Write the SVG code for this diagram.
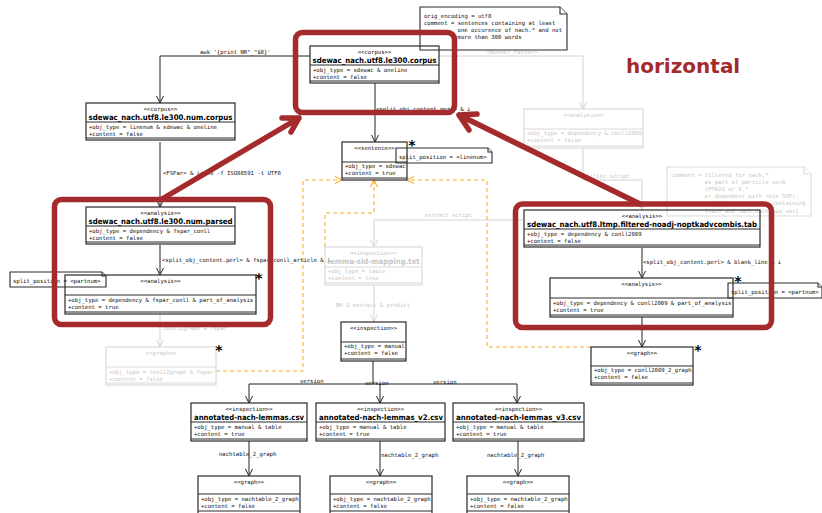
<svg xmlns="http://www.w3.org/2000/svg" width="822" height="513" viewBox="0 0 822 513">
<style>
.bx{fill:none;stroke:#2a2a2a;stroke-width:1.2}
.fb{fill:none;stroke:#dadada;stroke-width:1.2}
.nt{fill:#fff;stroke:#2a2a2a;stroke-width:1.1}
.fn{fill:#fff;stroke:#dcdcdc;stroke-width:1.1}
.m{font-family:"DejaVu Sans Mono","Liberation Mono",monospace;font-size:5.6px;fill:#111}
.f{fill:#c6c6c6}
.c{text-anchor:middle}
.nm{font-family:"DejaVu Sans","Liberation Sans",sans-serif;font-weight:bold;font-size:7.6px;text-anchor:middle;fill:#000}
.e{fill:none;stroke:#222;stroke-width:1}
.fe{fill:none;stroke:#d4d4d4;stroke-width:1}
.o{fill:none;stroke:#f9ae2e;stroke-width:1.1;stroke-dasharray:4 3}
.red{fill:none;stroke:#a52a2b;stroke-width:5.5;stroke-linejoin:round;stroke-linecap:round}
.st{font-family:"DejaVu Sans",sans-serif;font-weight:bold;font-size:14px;text-anchor:middle;fill:#000}
</style>
<defs>
<marker id="a" viewBox="-9 -5 10 10" refX="0" refY="0" markerWidth="10" markerHeight="10" markerUnits="userSpaceOnUse" orient="auto"><path d="M-7,-3.5 L0,0 L-7,3.5" fill="none" stroke="#222" stroke-width="1"/></marker>
<marker id="af" viewBox="-9 -5 10 10" refX="0" refY="0" markerWidth="10" markerHeight="10" markerUnits="userSpaceOnUse" orient="auto"><path d="M-7,-3.5 L0,0 L-7,3.5" fill="none" stroke="#d4d4d4" stroke-width="1"/></marker>
<marker id="ao" viewBox="-9 -5 10 10" refX="0" refY="0" markerWidth="10" markerHeight="10" markerUnits="userSpaceOnUse" orient="auto"><path d="M-7,-3.5 L0,0 L-7,3.5" fill="none" stroke="#f9ae2e" stroke-width="1.1"/></marker>
</defs>
<rect width="822" height="513" fill="#fff"/>

<g id="connectors">
<path class="e" d="M310,56 H160 V103" marker-end="url(#a)"/>
<path class="e" d="M160,142 V207" marker-end="url(#a)"/>
<path class="e" d="M160,245 V275" marker-end="url(#a)"/>
<path class="fe" d="M160,314 V347" marker-end="url(#af)"/>
<path class="e" d="M375,83 V142" marker-end="url(#a)"/>
<path class="fe" d="M439,56 H583 V109" marker-end="url(#af)"/>
<path class="fe" d="M583,148 V180 H642 V210" marker-end="url(#af)"/>
<path class="e" d="M642,248 V278" marker-end="url(#a)"/>
<path class="e" d="M642,317 V347" marker-end="url(#a)"/>
<path class="fe" d="M524,220 H374 V247" marker-end="url(#af)"/>
<path class="fe" d="M374,285 V322" marker-end="url(#af)"/>
<path class="e" d="M373,361 V384"/>
<path class="e" d="M373,384 H249 V403" marker-end="url(#a)"/>
<path class="e" d="M373,384 H380 V403" marker-end="url(#a)"/>
<path class="e" d="M380,384 H517 V403" marker-end="url(#a)"/>
<path class="e" d="M249,441 V476" marker-end="url(#a)"/>
<path class="e" d="M380,441 V476" marker-end="url(#a)"/>
<path class="e" d="M518,441 V476" marker-end="url(#a)"/>
<path class="o" d="M216,371 H303 V180 H342" marker-end="url(#ao)"/>
<path class="o" d="M325,247 V213 H374 V180" marker-end="url(#ao)"/>
<path class="o" d="M591,347 H487 V180 H407" marker-end="url(#ao)"/>
<text class="m" x="200" y="54">awk '{print NR"_"$0}'</text>
<text class="m" x="163" y="175">&lt;FSPar&gt; &amp; iconv -f ISO88591 -t UTF8</text>
<text class="m" x="162" y="262">&lt;split_obj_content.perl&gt; &amp; fspar_conll_article &amp; i</text>
<text class="m f" x="163" y="330">conll2graph &amp; fspar</text>
<text class="m" x="376" y="111">&lt;split_obj_content.perl&gt; &amp; i</text>
<text class="m f" x="487" y="54">&lt;Bohnet_Parser&gt;</text>
<text class="m f" x="586" y="178">filter script</text>
<text class="m" x="643" y="264">&lt;split_obj_content.perl&gt; &amp; blank_line &amp; i</text>
<text class="m" x="623" y="329">conll2graph</text>
<text class="m f" x="425" y="217">extract script</text>
<text class="m f" x="336" y="307">BH &amp; extract &amp; predict</text>
<text class="m" x="300" y="383">version</text>
<text class="m" x="365" y="385">version</text>
<text class="m" x="433" y="384">version</text>
<text class="m" x="219" y="456">nachtable_2_graph</text>
<text class="m" x="381" y="457">nachtable_2_graph</text>
<text class="m" x="487" y="457">nachtable_2_graph</text>
</g>

<g id="note-top">
<path class="nt" d="M420,7 H560 L567,14 V50 H420 Z"/>
<path class="nt" fill="none" d="M560,7 V14 H567"/>
<text class="m" x="424" y="18">orig_encoding = utf8</text>
<text class="m" x="424" y="25">comment = sentences containing at least</text>
<text class="m" x="457.6" y="32">one occurence of nach.* and not</text>
<text class="m" x="457.6" y="39">more than 300 words</text>
</g>

<g id="note-right">
<path class="fn" d="M667,167 H804 L811,174 V216 H667 Z"/>
<path class="fn" fill="none" d="M804,167 V174 H811"/>
<text class="m f" x="671" y="177">comment = filtered for nach.*</text>
<text class="m f" x="704.6" y="184">as part of particle verb</text>
<text class="m f" x="704.6" y="191">(PTKVZ or V.*</text>
<text class="m f" x="704.6" y="198">or dependent with role SVP),</text>
<text class="m f" x="704.6" y="205">excluding sentences containing</text>
<text class="m f" x="704.6" y="213">{nach_and_nach,nach_wie_vor}</text>
</g>

<g id="note-sentence">
<path class="nt" d="M396,148 H488 L492,152 V163 H396 Z"/>
<path class="nt" fill="none" d="M488,148 V152 H492"/>
<text class="m" x="399" y="159">split_position = &lt;linenum&gt;</text>
</g>
<g id="note-left">
<path class="nt" d="M10,272 H102 L106,276 V287 H10 Z"/>
<path class="nt" fill="none" d="M102,272 V276 H106"/>
<text class="m" x="13" y="283">split_position = &lt;partnum&gt;</text>
</g>
<g id="note-rightsplit">
<path class="nt" d="M728,283 H818 L822,287 V298 H728 Z"/>
<path class="nt" fill="none" d="M818,283 V287 H822"/>
<text class="m" x="731" y="294">split_position = &lt;partnum&gt;</text>
</g>

<g id="corpus-top">
<rect class="bx" x="310" y="46" width="129" height="37"/>
<path class="bx" d="M310,65 H439 M310,81 H439"/>
<text class="m c" x="374.5" y="53.5">&lt;&lt;corpus&gt;&gt;</text>
<text class="nm" x="374.5" y="62.5" textLength="124" lengthAdjust="spacingAndGlyphs">sdewac_nach.utf8.le300.corpus</text>
<text class="m" x="313" y="72">+obj_type = sdewac &amp; oneline</text>
<text class="m" x="313" y="79">+content = false</text>
</g>

<g id="corpus-num">
<rect class="bx" x="86" y="103" width="149" height="37"/>
<path class="bx" d="M86,122 H235 M86,138 H235"/>
<text class="m c" x="160.5" y="110.5">&lt;&lt;corpus&gt;&gt;</text>
<text class="nm" x="160.5" y="119.5" textLength="144" lengthAdjust="spacingAndGlyphs">sdewac_nach.utf8.le300.num.corpus</text>
<text class="m" x="89" y="129">+obj_type = linenum &amp; sdewac &amp; oneline</text>
<text class="m" x="89" y="136">+content = false</text>
</g>

<g id="parsed">
<rect class="bx" x="86" y="207" width="149" height="37"/>
<path class="bx" d="M86,226 H235 M86,242 H235"/>
<text class="m c" x="160.5" y="214.5">&lt;&lt;analysis&gt;&gt;</text>
<text class="nm" x="160.5" y="223.5" textLength="144" lengthAdjust="spacingAndGlyphs">sdewac_nach.utf8.le300.num.parsed</text>
<text class="m" x="89" y="233">+obj_type = dependency &amp; fspar_conll</text>
<text class="m" x="89" y="240">+content = false</text>
</g>

<g id="analysis-left">
<rect class="bx" x="65" y="275" width="191" height="39"/>
<path class="bx" d="M65,295 H256 M65,312 H256"/>
<text class="m c" x="160.5" y="282.5">&lt;&lt;analysis&gt;&gt;</text>
<text class="m" x="68" y="302">+obj_type = dependency &amp; fspar_conll &amp; part_of_analysis</text>
<text class="m" x="68" y="309">+content = true</text>
<text class="st" x="259" y="282.5">*</text>
</g>

<g id="graph-faded">
<rect class="fb" x="106" y="347" width="110" height="38"/>
<path class="fb" d="M106,367 H216 M106,383 H216"/>
<text class="m c f" x="161" y="354.5">&lt;&lt;graph&gt;&gt;</text>
<text class="m f" x="109" y="374">+obj_type = conll2graph &amp; fspar</text>
<text class="m f" x="109" y="381">+content = false</text>
<text class="st" x="219" y="354.5">*</text>
</g>

<g id="sentence">
<rect class="bx" x="342" y="142" width="65" height="38"/>
<path class="bx" d="M342,162 H407 M342,178 H407"/>
<text class="m c" x="374.5" y="149.5">&lt;&lt;sentence&gt;&gt;</text>
<text class="m" x="345" y="168">+obj_type = sdewac</text>
<text class="m" x="345" y="175">+content = true</text>
<text class="st" x="412" y="149.5">*</text>
</g>

<g id="lemma-map">
<rect class="fb" x="325" y="247" width="97" height="38"/>
<path class="fb" d="M325,267 H422 M325,283 H422"/>
<text class="m c f" x="373.5" y="254.5">&lt;&lt;inspection&gt;&gt;</text>
<text class="nm" style="fill:#c6c6c6" x="373.5" y="263.5" textLength="92" lengthAdjust="spacingAndGlyphs">lemma-sid-mapping.txt</text>
<text class="m f" x="328" y="273">+obj_type = table</text>
<text class="m f" x="328" y="280">+content = true</text>
</g>

<g id="inspection">
<rect class="bx" x="341" y="322" width="65" height="39"/>
<path class="bx" d="M341,342 H406 M341,359 H406"/>
<text class="m c" x="373.5" y="329.5">&lt;&lt;inspection&gt;&gt;</text>
<text class="m" x="344" y="348">+obj_type = manual</text>
<text class="m" x="344" y="355">+content = false</text>
</g>

<g id="csv1">
<rect class="bx" x="191" y="403" width="116" height="38"/>
<path class="bx" d="M191,422 H307 M191,439 H307"/>
<text class="m c" x="249" y="410.5">&lt;&lt;inspection&gt;&gt;</text>
<text class="nm" x="249" y="419.5" textLength="110" lengthAdjust="spacingAndGlyphs">annotated-nach-lemmas.csv</text>
<text class="m" x="194" y="429">+obj_type = manual &amp; table</text>
<text class="m" x="194" y="436">+content = true</text>
</g>
<g id="csv2">
<rect class="bx" x="316" y="403" width="129" height="38"/>
<path class="bx" d="M316,422 H445 M316,439 H445"/>
<text class="m c" x="380.5" y="410.5">&lt;&lt;inspection&gt;&gt;</text>
<text class="nm" x="381" y="419.5" textLength="124" lengthAdjust="spacingAndGlyphs">annotated-nach-lemmas_v2.csv</text>
<text class="m" x="319" y="429">+obj_type = manual &amp; table</text>
<text class="m" x="319" y="436">+content = true</text>
</g>
<g id="csv3">
<rect class="bx" x="453" y="403" width="131" height="38"/>
<path class="bx" d="M453,422 H584 M453,439 H584"/>
<text class="m c" x="518.5" y="410.5">&lt;&lt;inspection&gt;&gt;</text>
<text class="nm" x="518.5" y="419.5" textLength="125" lengthAdjust="spacingAndGlyphs">annotated-nach-lemmas_v3.csv</text>
<text class="m" x="456" y="429">+obj_type = manual &amp; table</text>
<text class="m" x="456" y="436">+content = true</text>
</g>

<g id="graph1">
<rect class="bx" x="198" y="476" width="102" height="38"/>
<path class="bx" d="M198,494 H300 M198,511 H300"/>
<text class="m c" x="249" y="483.5">&lt;&lt;graph&gt;&gt;</text>
<text class="m" x="201" y="501">+obj_type = nachtable_2_graph</text>
<text class="m" x="201" y="508">+content = false</text>
</g>
<g id="graph2">
<rect class="bx" x="330" y="476" width="102" height="38"/>
<path class="bx" d="M330,494 H432 M330,511 H432"/>
<text class="m c" x="381" y="483.5">&lt;&lt;graph&gt;&gt;</text>
<text class="m" x="333" y="501">+obj_type = nachtable_2_graph</text>
<text class="m" x="333" y="508">+content = false</text>
</g>
<g id="graph3">
<rect class="bx" x="467" y="476" width="102" height="38"/>
<path class="bx" d="M467,494 H569 M467,511 H569"/>
<text class="m c" x="518" y="483.5">&lt;&lt;graph&gt;&gt;</text>
<text class="m" x="470" y="501">+obj_type = nachtable_2_graph</text>
<text class="m" x="470" y="508">+content = false</text>
</g>

<g id="analysis-faded">
<rect class="fb" x="524" y="109" width="119" height="39"/>
<path class="fb" d="M524,129 H643 M524,146 H643"/>
<text class="m c f" x="583.5" y="116.5">&lt;&lt;analysis&gt;&gt;</text>
<text class="m f" x="527" y="135">+obj_type = dependency &amp; conll2009</text>
<text class="m f" x="527" y="142">+content = false</text>
</g>

<g id="filtered-tab">
<rect class="bx" x="524" y="210" width="236" height="37"/>
<path class="bx" d="M524,229 H760 M524,245 H760"/>
<text class="m c" x="642" y="217.5">&lt;&lt;analysis&gt;&gt;</text>
<text class="nm" x="642" y="226.5" textLength="230" lengthAdjust="spacingAndGlyphs">sdewac_nach.utf8.ltmp.filtered-noadj-noptkadvcombis.tab</text>
<text class="m" x="527" y="236">+obj_type = dependency &amp; conll2009</text>
<text class="m" x="527" y="243">+content = false</text>
</g>

<g id="analysis-right">
<rect class="bx" x="550" y="278" width="183" height="39"/>
<path class="bx" d="M550,298 H733 M550,315 H733"/>
<text class="m c" x="641.5" y="285.5">&lt;&lt;analysis&gt;&gt;</text>
<text class="m" x="553" y="305">+obj_type = dependency &amp; conll2009 &amp; part_of_analysis</text>
<text class="m" x="553" y="312">+content = true</text>
<text class="st" x="738" y="285.5">*</text>
</g>

<g id="graph-right">
<rect class="bx" x="591" y="347" width="102" height="38"/>
<path class="bx" d="M591,366 H693 M591,383 H693"/>
<text class="m c" x="642" y="354.5">&lt;&lt;graph&gt;&gt;</text>
<text class="m" x="594" y="372">+obj_type = conll2009_2_graph</text>
<text class="m" x="594" y="379">+content = false</text>
<text class="st" x="698" y="354.5">*</text>
</g>

<g id="highlights">
<rect class="red" x="295.5" y="32.5" width="159" height="80" rx="7"/>
<rect class="red" x="54.5" y="199.5" width="216" height="125" rx="7"/>
<rect class="red" x="515.5" y="204" width="256" height="123.5" rx="7"/>
<path class="red" d="M162,199 L299,118 M282,118 L299,118 L291,132"/>
<path class="red" d="M640,204 L459,115 M477,114 L459,115 L469,130"/>
<text x="626" y="73" font-family="DejaVu Sans, sans-serif" font-weight="bold" font-size="20" fill="#a52a2b">horizontal</text>
</g>
</svg>
